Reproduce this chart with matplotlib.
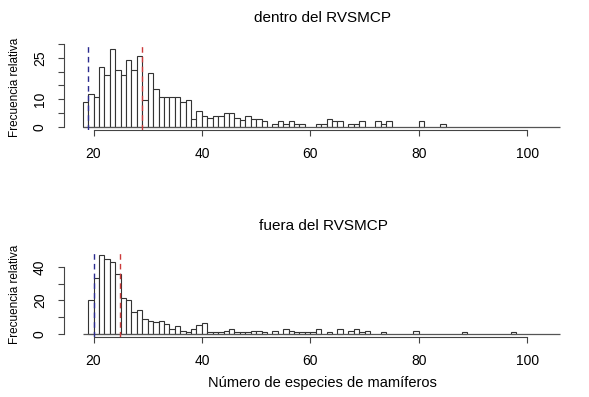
import numpy as np
from matplotlib import pyplot as plt

plt.rcParams['font.family'] = ['Liberation Sans', 'DejaVu Sans']

# bin left edges 18..105, width 1
bin_start = 18
bin_end = 106

dentro = [8.8, 11.8, 10.8, 21.5, 18.6, 28.3, 20.4, 18.6, 24.3, 20.4,
          25.5, 9.7, 19.5, 13.7, 10.7, 10.7, 10.7, 10.7, 8.8, 9.7,
          2.9, 5.8, 3.9, 3.2, 3.9, 3.9, 4.8, 4.8, 3.2, 2.3,
          3.9, 2.9, 2.9, 1.9, 0, 1.0, 1.9, 1.0, 1.9, 1.0,
          1.0, 0, 0, 1.0, 1.0, 2.9, 1.9, 1.9, 0, 1.0,
          1.0, 1.9, 0, 0, 1.9, 1.0, 1.9, 0, 0, 0,
          0, 0, 1.9, 0, 0, 0, 1.0, 0, 0, 0,
          0, 0, 0, 0, 0, 0, 0, 0, 0, 0,
          0, 0, 0, 0, 0, 0, 0, 0]

fuera = [0, 20.4, 33.7, 47.0, 45.0, 43.0, 35.7, 21.7, 20.4, 13.3,
         14.3, 9.0, 7.8, 7.0, 7.9, 6.0, 3.2, 5.0, 2.0, 1.0,
         2.8, 5.4, 6.3, 1.0, 1.0, 1.0, 2.0, 3.0, 1.0, 1.0,
         1.0, 2.0, 2.0, 1.0, 0, 2.0, 0, 3.0, 2.0, 1.0,
         1.0, 1.0, 1.0, 3.0, 0, 1.0, 0, 3.0, 0, 2.0,
         3.0, 1.0, 2.0, 0, 0, 1.0, 0, 0, 0, 0,
         0, 2.0, 0, 0, 0, 0, 0, 0, 0, 0,
         1.0, 0, 0, 0, 0, 0, 0, 0, 0, 1.0,
         0, 0, 0, 0, 0, 0, 0, 0]

lineas_dentro = [19.0, 29.0]
lineas_fuera = [20.0, 24.9]

titulos = ['dentro del RVSMCP', 'fuera del RVSMCP']
xlabel = 'Número de especies de mamíferos'
ylabel = 'Frecuencia relativa'

W, H = 589, 397
fig = plt.figure(figsize=(W / 100, H / 100), dpi=100)


def add_panel(top, bottom):
    return fig.add_axes([63.6 / W, 1 - bottom / H, (578.7 - 63.6) / W, (bottom - top) / H])


def draw_hist(ax, values, lines, ylim, yticks, ylabels):
    edges = np.arange(bin_start, bin_end)
    values = np.array(values)
    keep = values > 0
    ax.hlines(0, bin_start, bin_end, color='#555555', lw=0.9)
    ax.bar(edges[keep], values[keep], width=1, align='edge', color='white',
           edgecolor='#333333', linewidth=0.8)
    ax.axvline(lines[0], color='#2a2a8f', ls=(0, (4, 3)), lw=1)
    ax.axvline(lines[1], color='#cc3a3a', ls=(0, (4, 3)), lw=1)
    ax.set_xlim(14.48, 109.52)
    ax.set_ylim(*ylim)
    for s in ['top', 'right']:
        ax.spines[s].set_visible(False)
    for s in ['left', 'bottom']:
        ax.spines[s].set_color('#444444')
        ax.spines[s].set_linewidth(0.8)
    ax.spines['bottom'].set_bounds(20, 100)
    ax.spines['left'].set_bounds(yticks[0], yticks[-1])
    ax.set_xticks([20, 40, 60, 80, 100])
    ax.set_yticks(yticks)
    ax.set_yticklabels(ylabels, rotation=90, va='center')
    ax.tick_params(direction='out', length=4, width=0.8, color='#444444',
                   labelsize=10, pad=8)


ax1 = add_panel(44, 129.9)
draw_hist(ax1, dentro, lineas_dentro, (-1.15, 30.0),
          [0, 5, 10, 15, 20, 25, 30], ['0', '', '10', '', '', '25', ''])
ax2 = add_panel(252, 337.2)
draw_hist(ax2, fuera, lineas_fuera, (-1.88, 48.9),
          [0, 10, 20, 30, 40], ['0', '', '20', '', '40'])

fig.text(323 / W, 1 - 18 / H, titulos[0], ha='center', va='center', fontsize=11)
fig.text(323 / W, 1 - 226 / H, titulos[1], ha='center', va='center', fontsize=11)
fig.text(15 / W, 1 - 87 / H, ylabel, rotation=90, ha='center', va='center', fontsize=8.5)
fig.text(15 / W, 1 - 294 / H, ylabel, rotation=90, ha='center', va='center', fontsize=8.5)
fig.text(322 / W, 1 - 383 / H, xlabel, ha='center', va='center', fontsize=10.5)

fig.savefig('out.png', dpi=100)
